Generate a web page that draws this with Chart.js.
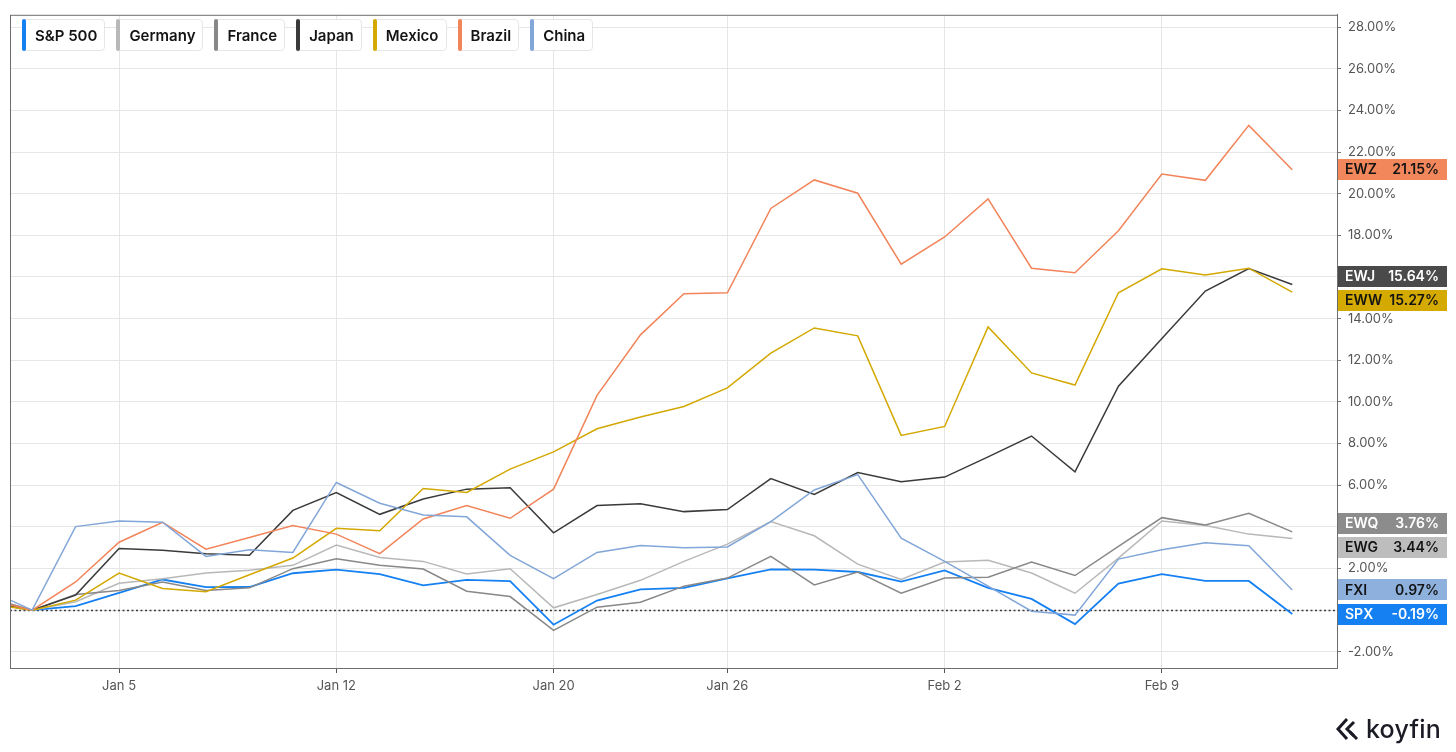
<!DOCTYPE html>
<html>
<head>
<meta charset="utf-8">
<script src="https://cdn.jsdelivr.net/npm/chart.js@4"></script>
<style>
  html, body { margin: 0; padding: 0; background: #fff; }
  body { width: 1456px; height: 752px; position: relative; overflow: hidden; font-family: Inter, "Noto Sans", sans-serif; }
  #chart { position: absolute; left: 0; top: 0; }
  #legend { position: absolute; left: 22px; top: 19px; display: flex; gap: 11px; }
  .legend-item {
    position: relative; height: 32px; box-sizing: border-box;
    border: 1px solid #e6e6e6; border-radius: 4px; background: #fff;
    display: flex; align-items: center; padding: 0 7px 0 12px;
    font-weight: 600; font-size: 15px; color: #141414;
  }
  .legend-bar { position: absolute; left: -1px; top: -1px; bottom: -1px; width: 4px; border-radius: 3px; }
  #brand { position: absolute; left: 1336px; top: 714px; display: flex; align-items: center; gap: 6px; color: #1b1b26; }
  #brand span { font-size: 25px; font-weight: 500; letter-spacing: 0.2px; }
</style>
</head>
<body>
<canvas id="chart" width="1456" height="752"></canvas>
<div id="legend"></div>
<div id="brand">
  <svg width="24" height="24" viewBox="0 0 24 24">
    <polyline points="11,2 2,12 11,22" fill="none" stroke="#1b1b26" stroke-width="3" stroke-linejoin="miter"/>
    <polyline points="18,5 11,12 18,19" fill="none" stroke="#1b1b26" stroke-width="3" stroke-linejoin="miter"/>
    <line x1="14" y1="15" x2="21" y2="22" stroke="#1b1b26" stroke-width="3"/>
  </svg>
  <span>koyfin</span>
</div>
<script>
// =============================================
// Country ETF performance since Dec 31 (% change)
// =============================================

const days = ['Dec 30', 'Dec 31', 'Jan 2', 'Jan 5', 'Jan 6', 'Jan 7', 'Jan 8', 'Jan 9',
  'Jan 12', 'Jan 13', 'Jan 14', 'Jan 15', 'Jan 16', 'Jan 20', 'Jan 21', 'Jan 22', 'Jan 23',
  'Jan 26', 'Jan 27', 'Jan 28', 'Jan 29', 'Jan 30', 'Feb 2', 'Feb 3', 'Feb 4', 'Feb 5',
  'Feb 6', 'Feb 9', 'Feb 10', 'Feb 11', 'Feb 12'];
const xTickDays = ['Jan 5', 'Jan 12', 'Jan 20', 'Jan 26', 'Feb 2', 'Feb 9'];
const yTicks = [-2, 0, 2, 4, 6, 8, 10, 12, 14, 16, 18, 20, 22, 24, 26, 28];

const names   = ['S&P 500', 'Germany', 'France', 'Japan', 'Mexico', 'Brazil', 'China'];
const tickers = ['SPX', 'EWG', 'EWQ', 'EWJ', 'EWW', 'EWZ', 'FXI'];

const spx    = [0.35, 0, 0.19, 0.83, 1.47, 1.10, 1.11, 1.77, 1.94, 1.73, 1.19, 1.45, 1.39, -0.70, 0.46, 1.00,
  1.07, 1.53, 1.96, 1.94, 1.83, 1.37, 1.91, 1.07, 0.54, -0.67, 1.27, 1.73, 1.40, 1.40, -0.19];
const germany = [0.6, 0, 0.40, 1.29, 1.51, 1.78, 1.91, 2.15, 3.12, 2.53, 2.34, 1.73, 1.99, 0.11, 0.75, 1.43,
  2.34, 3.17, 4.25, 3.57, 2.21, 1.47, 2.31, 2.39, 1.78, 0.81, 2.50, 4.28, 4.06, 3.65, 3.44];
const france  = [0.6, 0, 0.75, 0.94, 1.35, 0.94, 1.07, 1.99, 2.47, 2.15, 1.97, 0.91, 0.65, -0.97, 0.14, 0.38,
  1.15, 1.54, 2.58, 1.21, 1.83, 0.81, 1.54, 1.58, 2.31, 1.66, 3.06, 4.44, 4.09, 4.65, 3.76];
const japan   = [0.4, 0, 0.72, 2.96, 2.88, 2.71, 2.63, 4.79, 5.64, 4.60, 5.34, 5.81, 5.88, 3.71, 5.02, 5.11,
  4.73, 4.83, 6.32, 5.56, 6.61, 6.16, 6.39, 7.36, 8.36, 6.64, 10.75, 13.04, 15.32, 16.40, 15.64];
const mexico  = [0.3, 0, 0.48, 1.78, 1.04, 0.88, 1.70, 2.50, 3.93, 3.81, 5.84, 5.65, 6.77, 7.60, 8.71, 9.27,
  9.78, 10.67, 12.34, 13.55, 13.17, 8.39, 8.82, 13.60, 11.39, 10.81, 15.24, 16.39, 16.10, 16.42, 15.27];
const brazil  = [0.5, 0, 1.35, 3.26, 4.22, 2.93, 3.49, 4.06, 3.65, 2.71, 4.38, 5.02, 4.41, 5.81, 10.31, 13.22,
  15.19, 15.24, 19.29, 20.66, 20.02, 16.61, 17.92, 19.75, 16.42, 16.20, 18.22, 20.94, 20.64, 23.28, 21.15];
const china   = [0.95, 0, 4.01, 4.28, 4.22, 2.58, 2.90, 2.77, 6.13, 5.13, 4.57, 4.48, 2.63, 1.51, 2.77, 3.10,
  3.00, 3.03, 4.25, 5.77, 6.51, 3.46, 2.34, 1.15, -0.05, -0.24, 2.45, 2.90, 3.23, 3.09, 0.97];

const series = [spx, germany, france, japan, mexico, brazil, china];

const LINE_COLORS  = ['#1580f2', '#b8b8b8', '#888888', '#3a3a3a', '#d3a800', '#f2845a', '#82a6d8'];
const BADGE_COLORS = ['#1580f2', '#bdbdbd', '#8c8c8c', '#4a4a4a', '#d4aa00', '#f2875c', '#8eb0dd'];
const BADGE_TEXT   = ['#ffffff', '#141414', '#ffffff', '#ffffff', '#141414', '#141414', '#141414'];

const FONT = 'Inter, "Noto Sans", sans-serif';

// ─────────────────────────────────────────
// HTML legend (top-left)
// ─────────────────────────────────────────
document.getElementById('legend').innerHTML = names.map((n, i) =>
  `<div class="legend-item"><span class="legend-bar" style="background:${LINE_COLORS[i]};"></span>${n}</div>`
).join('');

// ─────────────────────────────────────────
// Frame, zero line and last-value badges
// ─────────────────────────────────────────
const framePlugin = {
  id: 'frame',
  beforeDatasetsDraw(chart) {
    const { ctx, chartArea: a, scales: { y } } = chart;
    const y0 = Math.round(y.getPixelForValue(0)) + 0.5;
    ctx.save();
    ctx.strokeStyle = '#3a3a3a';
    ctx.lineWidth = 1.3;
    ctx.setLineDash([2, 2.5]);
    ctx.beginPath();
    ctx.moveTo(a.left, y0);
    ctx.lineTo(a.right, y0);
    ctx.stroke();
    ctx.restore();
  },
  afterDraw(chart) {
    const { ctx, chartArea: a, scales: { y } } = chart;
    ctx.save();
    ctx.strokeStyle = '#6e6e6e';
    ctx.lineWidth = 1;
    ctx.strokeRect(a.left + 0.5, a.top + 0.5, a.right - a.left, a.bottom - a.top);

    // badges, pushed apart where they overlap
    const H = 21, GAP = 24;
    const items = series.map((s, i) => ({ i, v: s[s.length - 1], y: y.getPixelForValue(s[s.length - 1]) }))
      .sort((p, q) => p.y - q.y);
    for (let k = 0; k < 50; k++) {
      for (let j = 1; j < items.length; j++) {
        const d = items[j].y - items[j - 1].y;
        if (d < GAP) {
          const push = (GAP - d) / 2;
          items[j - 1].y -= push;
          items[j].y += push;
        }
      }
    }
    const x0 = a.right + 1, w = 109;
    items.forEach(it => {
      ctx.fillStyle = BADGE_COLORS[it.i];
      ctx.fillRect(x0, Math.round(it.y - H / 2), w, H);
      ctx.fillStyle = BADGE_TEXT[it.i];
      ctx.font = `600 14px ${FONT}`;
      ctx.textBaseline = 'middle';
      ctx.textAlign = 'left';
      ctx.fillText(tickers[it.i], x0 + 7, it.y + 0.5);
      ctx.textAlign = 'right';
      ctx.fillText(it.v.toFixed(2) + '%', x0 + w - 8, it.y + 0.5);
    });
    ctx.restore();
  }
};

// ─────────────────────────────────────────
// Line chart
// ─────────────────────────────────────────
const datasets = series.map((s, i) => ({
  label: names[i],
  data: s.map((v, k) => ({ x: k, y: v })),
  borderColor: LINE_COLORS[i],
  borderWidth: i === 0 ? 1.8 : 1.5,
  pointRadius: 0,
  tension: 0,
  fill: false,
}));

new Chart(document.getElementById('chart'), {
  type: 'line',
  data: { datasets: datasets.slice().reverse() },
  options: {
    responsive: false,
    animation: false,
    layout: { padding: { left: 10, top: 10, right: 0, bottom: 0 } },
    plugins: { legend: { display: false }, tooltip: { enabled: false } },
    scales: {
      x: {
        type: 'linear',
        min: 0.49,
        max: 31.03,
        afterBuildTicks: s => { s.ticks = xTickDays.map(d => ({ value: days.indexOf(d) })); },
        afterFit: s => { s.height = 84; },
        ticks: { callback: v => days[v], color: '#555', font: { size: 13, family: FONT }, padding: 5, maxRotation: 0, autoSkip: false },
        grid: { color: '#e6e6e6', tickColor: '#555', tickLength: 5 },
        border: { color: '#6e6e6e' }
      },
      y: {
        position: 'right',
        min: -2.78,
        max: 28.59,
        afterBuildTicks: s => { s.ticks = yTicks.map(v => ({ value: v })); },
        afterFit: s => { s.width = 119; },
        ticks: { callback: v => v.toFixed(2) + '%', color: '#555', font: { size: 13, family: FONT }, padding: 7 },
        grid: { color: '#e6e6e6', tickColor: '#777', tickLength: 4 },
        border: { color: '#6e6e6e' }
      }
    }
  },
  plugins: [framePlugin]
});
</script>
</body>
</html>
